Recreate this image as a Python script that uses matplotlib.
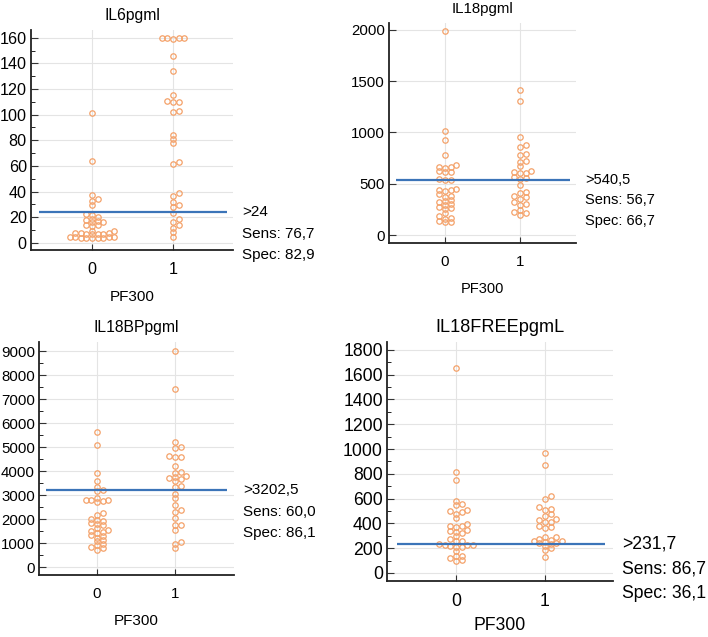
import numpy as np
import matplotlib
matplotlib.use("Agg")
import matplotlib.pyplot as plt
from matplotlib.ticker import MultipleLocator

plt.rcParams["font.family"] = ["Liberation Sans", "DejaVu Sans"]

# --- Data ---

groups = ["0", "1"]

il6_neg = [101, 64, 37, 34, 33, 29.5, 22.6, 22, 20, 19, 17.5, 17, 16.5, 16, 14, 14, 13,
           9.6, 9, 7.8, 7.6, 7.5, 7.3, 7.2, 7, 6.8, 4.6, 4.5, 4.4, 4.3, 4.2, 4, 3.8, 3.6, 3.5]
il6_pos = [160, 160, 160, 160, 159, 146, 134, 115, 111, 110, 109.7, 103, 101.8, 84, 81, 77.8,
           63.4, 61.4, 38.6, 36.5, 31.6, 29.5, 27.7, 23, 19, 16.5, 14, 12, 8.6, 5]
il6_cut = 24
il6_text = [">24", "Sens: 76,7", "Spec: 82,9"]

il18_neg = [1990, 1010, 925, 780, 680, 665, 660, 650, 625, 615, 610, 545,
            538, 535, 450, 440, 435, 425, 400, 385, 370, 340, 330, 320, 300, 290,
            270, 260, 250, 210, 190, 170, 160, 140, 130, 125]
il18_pos = [1415, 1310, 953, 878, 855, 790, 780, 725, 715, 673, 620, 610, 605, 600, 569, 553, 543,
            488, 423, 410, 380, 370, 355, 320, 302, 290, 240, 220, 215, 192]
il18_cut = 540.5
il18_text = [">540,5", "Sens: 56,7", "Spec: 66,7"]

il18bp_neg = [5630, 5100, 3920, 3600, 3320, 3200, 3180, 2870, 2800, 2780, 2780, 2750, 2720,
              2250, 2180, 2000, 1950, 1900, 1830, 1800, 1740, 1640, 1530, 1500, 1460, 1400,
              1320, 1280, 1220, 1110, 1080, 970, 900, 830, 800, 700]
il18bp_pos = [8980, 7410, 5210, 5000, 4960, 4630, 4600, 4580, 4210, 3960, 3930, 3800, 3760,
              3720, 3680, 3600, 3380, 3330, 3060, 2890, 2570, 2390, 2290, 2040, 1770, 1740,
              1560, 1040, 970, 800]
il18bp_cut = 3202.5
il18bp_text = [">3202,5", "Sens: 60,0", "Spec: 86,1"]

il18free_neg = [1658, 811, 747, 578, 555, 545, 505, 500, 489, 478, 443, 395, 381, 376, 371,
                344, 336, 328, 322, 296, 274, 260, 255, 230, 229, 226, 222, 215, 210, 208,
                175, 140, 134, 121, 107, 94]
il18free_pos = [967, 873, 618, 596, 532, 516, 505, 476, 457, 435, 430, 411, 411, 381, 371, 363,
                290, 290, 274, 269, 260, 255, 250, 245, 240, 236, 220, 201, 183, 129]
il18free_cut = 231.7
il18free_text = [">231,7", "Sens: 86,7", "Spec: 36,1"]

W, H = 708, 637
DOT = "#f4a26a"
LINE = "#3b74b8"


# Converts a pixel box (left, top, right, bottom) into a figure rect
def px_rect(l, t, r, b):
    return [l / W, 1 - b / H, (r - l) / W, (b - t) / H]


# Spreads the dots of one group sideways so they do not overlap too much (simple beeswarm)
def swarm(ax, xc, values, d=5.6):
    trans = ax.transData
    placed = []
    xs = np.zeros(len(values))
    order = np.argsort(values)
    x0_px = trans.transform((xc, 0))[0]
    for i in order:
        y_px = trans.transform((xc, values[i]))[1]
        k = 0
        while True:
            off = ((k + 1) // 2) * d * (1 if k % 2 else -1) if k else 0.0
            if all(abs(off - px) >= d * 0.92 or abs(y_px - py) >= d * 0.6 for px, py in placed):
                break
            k += 1
        placed.append((off, y_px))
        xs[i] = trans.inverted().transform((x0_px + off, y_px))[0]
    return xs


def panel(fig, rect, title, neg, pos, cut, text, ylim, xlim, major, minor, fs, tfs,
          labelpad=9, ms=3.9):
    ax = fig.add_axes(rect)
    ax.set_xlim(*xlim)
    ax.set_ylim(*ylim)
    for s in ["top", "right"]:
        ax.spines[s].set_visible(False)
    for s in ["left", "bottom"]:
        ax.spines[s].set_linewidth(1.3)
        ax.spines[s].set_color("#222222")
    ax.yaxis.set_major_locator(MultipleLocator(major))
    if minor:
        ax.yaxis.set_minor_locator(MultipleLocator(minor))
    ax.set_xticks([0, 1])
    ax.set_xticklabels(groups)
    ax.tick_params(axis="both", direction="in", labelsize=tfs, color="#333333")
    ax.tick_params(axis="y", which="major", length=5, pad=3)
    ax.tick_params(axis="y", which="minor", length=3, direction="in")
    ax.tick_params(axis="x", length=4, pad=9)
    ax.grid(True, color="#e4e4e4", linewidth=0.8)
    ax.set_axisbelow(True)

    for xc, vals in zip([0, 1], [neg, pos]):
        xs = swarm(ax, xc, vals)
        ax.plot(xs, vals, "o", mfc="none", mec=DOT, mew=0.9, ms=ms, zorder=3)

    ax.hlines(cut, -0.66, 1.67, color=LINE, linewidth=1.6, zorder=4)
    for j, t in enumerate(text):
        ax.annotate(t, xy=(1, cut), xycoords=("axes fraction", "data"),
                    xytext=(9, -j * 21.5 * fs / 11), textcoords="offset pixels",
                    fontsize=fs, va="center", ha="left", annotation_clip=False)

    ax.set_title(title, fontsize=fs * 1.03, pad=7)
    ax.set_xlabel("PF300", fontsize=fs, labelpad=labelpad)
    return ax


fig = plt.figure(figsize=(W / 100, H / 100), dpi=100)

panel(fig, px_rect(31, 30, 233, 250), "IL6pgml", il6_neg, il6_pos, il6_cut, il6_text,
      ylim=(-5.5, 166), xlim=(-0.753, 1.74), major=20, minor=10, fs=11, tfs=11.6)
panel(fig, px_rect(389, 23, 576, 243), "IL18pgml", il18_neg, il18_pos, il18_cut, il18_text,
      ylim=(-78, 2068), xlim=(-0.747, 1.747), major=500, minor=None, fs=10.5, tfs=10.8)
panel(fig, px_rect(39, 342, 234, 575), "IL18BPpgml", il18bp_neg, il18bp_pos, il18bp_cut,
      il18bp_text, ylim=(-333, 9375), xlim=(-0.744, 1.756), major=1000, minor=500,
      fs=11, tfs=10.8)
panel(fig, px_rect(387, 342, 613, 581), "IL18FREEpgmL", il18free_neg, il18free_pos,
      il18free_cut, il18free_text, ylim=(-65, 1864), xlim=(-0.775, 1.764), major=200,
      minor=100, fs=12.7, tfs=12.7, labelpad=5)

fig.savefig("out.png", dpi=100)
plt.close(fig)
